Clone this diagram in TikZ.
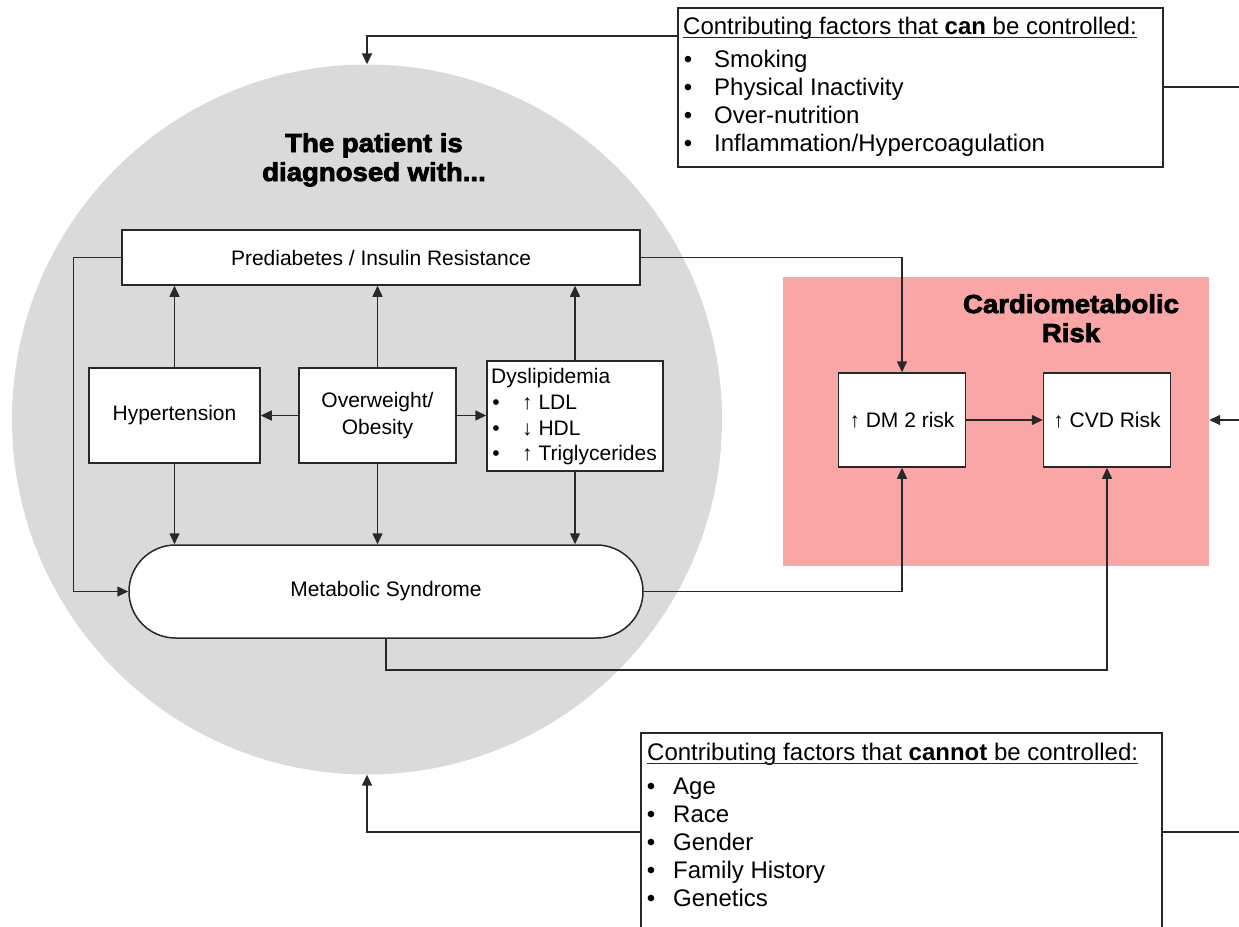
\documentclass[tikz,border=0pt]{standalone}
\usepackage{fontspec}
\setmainfont{Liberation Sans}
\newfontfamily\heavy{Liberation Sans}[BoldFeatures={FakeBold=3,FakeStretch=1.06}]
\usetikzlibrary{arrows.meta,shapes.misc}
\definecolor{circgray}{RGB}{218,218,218}
\definecolor{riskpink}{RGB}{250,166,166}
\definecolor{ln}{RGB}{40,40,40}
\begin{document}
\begin{tikzpicture}[x=1pt,y=-1pt,
  box/.style={draw=ln,line width=1.5pt,fill=white,inner sep=0pt,rectangle},
  con/.style={draw=ln,line width=1.5pt},
  arr/.style={con,-{Triangle[length=11pt,width=10pt]}},
  txt/.style={inner sep=0pt,font=\fontsize{21}{27}\selectfont},
  big/.style={inner sep=0pt,font=\fontsize{24}{28}\selectfont},
  ttl/.style={inner sep=0pt,anchor=base,font=\heavy\bfseries\fontsize{26}{29}\selectfont},
]
\useasboundingbox (0,0) rectangle (1239,926);
\clip (0,0) rectangle (1239,926);

% big grey circle
\node[circle,fill=circgray,minimum size=710pt,inner sep=0pt] (bigc) at (367,419.5) {};
\node[ttl] (title1) at (374,152) {The patient is};
\node[ttl] (title2) at (374,181) {diagnosed with...};

% inner boxes
\node[box,txt,minimum width=518pt,minimum height=55pt] (pre) at (381,257.5) {Prediabetes / Insulin Resistance};
\node[box,txt,minimum width=171pt,minimum height=95pt] (hyp) at (174.5,415.5) {Hypertension};
\node[box,txt,align=center,minimum width=157pt,minimum height=95pt] (ovw) at (377.5,415.5) {Overweight/\\Obesity};
\node[box,minimum width=176pt,minimum height=110pt] (dys) at (575,416) {};
\node[txt,anchor=base west] (dl0) at (491,383) {Dyslipidemia};
\node[txt,anchor=base] (db1) at (496,409) {•};
\node[txt,anchor=base west] (dl1) at (522,409) {↑ LDL};
\node[txt,anchor=base] (db2) at (496,435) {•};
\node[txt,anchor=base west] (dl2) at (522,435) {↓ HDL};
\node[txt,anchor=base] (db3) at (496,460) {•};
\node[txt,anchor=base west] (dl3) at (522,460) {↑ Triglycerides};
\node[draw=ln,line width=1.5pt,fill=white,rounded rectangle,inner sep=0pt,txt,minimum width=514pt,minimum height=93pt] (met) at (386,591.5) {Metabolic Syndrome};

% cardiometabolic risk
\node[fill=riskpink,minimum width=426pt,minimum height=289pt,inner sep=0pt] (cmr) at (996,421.5) {};
\node[ttl] (ctitle1) at (1071,313) {Cardiometabolic};
\node[ttl] (ctitle2) at (1071,342) {Risk};
\node[box,txt,minimum width=127pt,minimum height=94pt] (dm2) at (902,420) {↑ DM 2 risk};
\node[box,txt,minimum width=127pt,minimum height=94pt] (cvd) at (1107,420) {↑ CVD Risk};

% factor boxes
\node[box,minimum width=485pt,minimum height=159pt] (topbox) at (920.5,87.5) {};
\node[big,anchor=base west] (th) at (683,34) {Contributing factors that \textbf{can} be controlled:};
\draw[ln,line width=1.1pt] ([yshift=-3.5pt]th.base west) -- ([yshift=-3.5pt]th.base east);
\foreach \t/\y [count=\i] in {Smoking/67, Physical Inactivity/95, Over-nutrition/123, {Inflammation/Hypercoagulation}/151}{
  \node[big,anchor=base] (tb\i) at (688,\y) {•};
  \node[big,anchor=base west] (ti\i) at (714,\y) {\t};
}
\node[box,minimum width=521pt,minimum height=227pt] (botbox) at (901.5,846.5) {};
\node[big,anchor=base west] (bh) at (647,760) {Contributing factors that \textbf{cannot} be controlled:};
\draw[ln,line width=1.1pt] ([yshift=-3.5pt]bh.base west) -- ([yshift=-3.5pt]bh.base east);
\foreach \t/\y [count=\i] in {Age/794, Race/822, Gender/850, Family History/878, Genetics/906}{
  \node[big,anchor=base] (bb\i) at (651,\y) {•};
  \node[big,anchor=base west] (bi\i) at (673,\y) {\t};
}

% helper coordinates (free ends / levels)
\coordinate (l1) at (0,36);
\coordinate (e1) at (1239,87);
\coordinate (e2) at (1239,420);
\coordinate (e3) at (1239,832);

% connectors
\draw[arr] (topbox.west |- l1) -| (bigc.north);
\draw[con] (topbox.east |- e1) -- (e1);
\draw[arr] (botbox.west |- e3) -| (bigc.south);
\draw[con] (botbox.east |- e3) -- (e3);
\draw[arr] (e2) -- (cmr.east |- e2);

\draw[arr] (hyp.north) -- (hyp.north |- pre.south);
\draw[arr] (ovw.north) -- (ovw.north |- pre.south);
\draw[arr] (dys.north) -- (dys.north |- pre.south);
\draw[arr] (ovw.west) -- (hyp.east);
\draw[arr] (ovw.east) -- (ovw.east -| dys.west);
\draw[arr] (hyp.south) -- (hyp.south |- met.north);
\draw[arr] (ovw.south) -- (ovw.south |- met.north);
\draw[arr] (dys.south) -- (dys.south |- met.north);
\draw[arr] (pre.west) -- ++(-48,0) |- (met.west);

\draw[arr] (pre.east) -| (dm2.north);
\draw[arr] (met.east) -| (dm2.south);
\draw[arr] (dm2.east) -- (cvd.west);
\draw[arr] (met.south) -- ++(0,31) -| (cvd.south);
\end{tikzpicture}
\end{document}
